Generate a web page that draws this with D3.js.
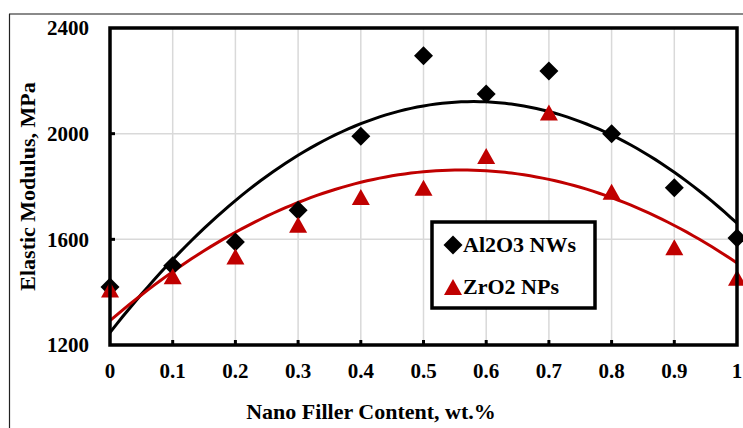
<!DOCTYPE html>
<html>
  <head>
    <meta charset="utf-8">
    <script src="https://d3js.org/d3.v7.min.js"></script>
    <title>Elastic Modulus</title>
    <style>
      html, body {
        margin: 0px;
        padding: 0px;
        overflow: hidden;
        background: #fff;
      }
      svg {
        display: block;
      }
      text {
        font-family: 'Liberation Serif', 'Times New Roman', serif;
        font-weight: bold;
        fill: #000;
      }
      .tick-label {
        font-size: 21px;
      }
      .axis-title {
        font-size: 22px;
      }
      .legend-text {
        font-size: 22px;
      }
    </style>
  </head>
  <body>
    <svg width="743" height="428"></svg>
    <script>
      const fillerContent = [0, 0.1, 0.2, 0.3, 0.4, 0.5, 0.6, 0.7, 0.8, 0.9, 1];
      const al2o3Values = [1420, 1500, 1590, 1710, 1990, 2295, 2150, 2237, 2000, 1795, 1605];
      const zro2Values = [1410, 1460, 1535, 1655, 1760, 1795, 1915, 2080, 1780, 1570, 1455];
      const xTicks = [0, 0.1, 0.2, 0.3, 0.4, 0.5, 0.6, 0.7, 0.8, 0.9, 1];
      const yTicks = [1200, 1600, 2000, 2400];
      const seriesNames = ['Al2O3 NWs', 'ZrO2 NPs'];

      const black = '#000000';
      const red = '#c00000';
      const margin = { left: 110, right: 6, top: 28, bottom: 83 };

      const svg = d3.select('svg');
      const width = +svg.attr('width');
      const height = +svg.attr('height');
      const innerWidth = width - margin.left - margin.right;
      const innerHeight = height - margin.top - margin.bottom;

      // chart area border (top grey, left dark)
      svg.append('line')
          .attr('x1', 9).attr('x2', width).attr('y1', 14).attr('y2', 14)
          .attr('stroke', '#8a8a8a').attr('stroke-width', 2);
      svg.append('line')
          .attr('x1', 9.5).attr('x2', 9.5).attr('y1', 14).attr('y2', height)
          .attr('stroke', '#222').attr('stroke-width', 1.2);

      const x = d3.scaleLinear().domain([0, 1]).range([0, innerWidth]);
      const y = d3.scaleLinear().domain([1200, 2400]).range([innerHeight, 0]);

      const g = svg.append('g')
          .attr('transform', `translate(${margin.left},${margin.top})`);

      // gridlines
      g.append('g').selectAll('line').data(xTicks.slice(1, -1))
        .enter().append('line')
          .attr('x1', d => x(d)).attr('x2', d => x(d))
          .attr('y1', 0).attr('y2', innerHeight)
          .attr('stroke', '#d9d9d9').attr('stroke-width', 1.5);
      g.append('g').selectAll('line').data(yTicks.slice(1, -1))
        .enter().append('line')
          .attr('x1', 0).attr('x2', innerWidth)
          .attr('y1', d => y(d)).attr('y2', d => y(d))
          .attr('stroke', '#d9d9d9').attr('stroke-width', 1.5);

      // inner tick marks
      g.append('g').selectAll('line').data(xTicks.slice(1, -1))
        .enter().append('line')
          .attr('x1', d => x(d)).attr('x2', d => x(d))
          .attr('y1', innerHeight).attr('y2', innerHeight - 5)
          .attr('stroke', black).attr('stroke-width', 3);
      g.append('g').selectAll('line').data(yTicks.slice(1, -1))
        .enter().append('line')
          .attr('x1', 0).attr('x2', 5)
          .attr('y1', d => y(d)).attr('y2', d => y(d))
          .attr('stroke', black).attr('stroke-width', 3);

      // tick labels
      g.append('g').selectAll('text').data(xTicks)
        .enter().append('text')
          .attr('class', 'tick-label')
          .attr('x', d => x(d))
          .attr('y', innerHeight + 33)
          .attr('text-anchor', 'middle')
          .text(d => d3.format('')(d));
      g.append('g').selectAll('text').data(yTicks)
        .enter().append('text')
          .attr('class', 'tick-label')
          .attr('x', -21)
          .attr('y', d => y(d))
          .attr('dy', '0.35em')
          .attr('text-anchor', 'end')
          .text(d => d);

      // quadratic least squares trendline, like the spreadsheet's polynomial fit
      const quadFit = (xs, ys) => {
        const n = xs.length;
        let s1 = 0, s2 = 0, s3 = 0, s4 = 0, t0 = 0, t1 = 0, t2 = 0;
        xs.forEach((xi, i) => {
          const yi = ys[i];
          s1 += xi; s2 += xi * xi; s3 += xi ** 3; s4 += xi ** 4;
          t0 += yi; t1 += xi * yi; t2 += xi * xi * yi;
        });
        const m = [[n, s1, s2, t0], [s1, s2, s3, t1], [s2, s3, s4, t2]];
        for (let c = 0; c < 3; c++) {
          for (let r = c + 1; r < 3; r++) {
            const f = m[r][c] / m[c][c];
            for (let k = c; k < 4; k++) m[r][k] -= f * m[c][k];
          }
        }
        const co = [0, 0, 0];
        for (let r = 2; r >= 0; r--) {
          let s = m[r][3];
          for (let k = r + 1; k < 3; k++) s -= m[r][k] * co[k];
          co[r] = s / m[r][r];
        }
        return v => co[0] + co[1] * v + co[2] * v * v;
      };

      const fitLine = d3.line()
        .x(d => x(d[0]))
        .y(d => y(d[1]));

      const samples = d3.range(0, 1.0001, 0.01);
      const series = [
        { name: seriesNames[0], values: al2o3Values, color: black, shape: 'diamond' },
        { name: seriesNames[1], values: zro2Values, color: red, shape: 'triangle' }
      ];

      const diamondPath = 'M0,-9.5L9.5,0L0,9.5L-9.5,0Z';
      const trianglePath = 'M0,-8L9,8L-9,8Z';
      const shapePath = s => s === 'diamond' ? diamondPath : trianglePath;

      series.forEach(s => {
        const f = quadFit(fillerContent, s.values);
        g.append('path')
            .datum(samples.map(v => [v, f(v)]))
            .attr('d', fitLine)
            .attr('fill', 'none')
            .attr('stroke', s.color)
            .attr('stroke-width', 3);
      });

      series.forEach(s => {
        g.append('g').selectAll('path').data(s.values)
          .enter().append('path')
            .attr('d', shapePath(s.shape))
            .attr('transform', (d, i) => `translate(${x(fillerContent[i])},${y(d)})`)
            .attr('fill', s.color);
      });

      // plot frame
      g.append('rect')
          .attr('width', innerWidth)
          .attr('height', innerHeight)
          .attr('fill', 'none')
          .attr('stroke', black)
          .attr('stroke-width', 3.5);

      // axis titles
      svg.append('text')
          .attr('class', 'axis-title')
          .attr('x', 371)
          .attr('y', 419)
          .attr('text-anchor', 'middle')
          .text('Nano Filler Content, wt.%');
      svg.append('text')
          .attr('class', 'axis-title')
          .attr('transform', `translate(35,${margin.top + innerHeight / 2}) rotate(-90)`)
          .attr('text-anchor', 'middle')
          .text('Elastic Modulus, MPa');

      // legend
      const legendG = svg.append('g')
          .attr('transform', 'translate(432,222)');
      legendG.append('rect')
          .attr('width', 163)
          .attr('height', 86)
          .attr('fill', '#fff')
          .attr('stroke', black)
          .attr('stroke-width', 3.5);
      series.forEach((s, i) => {
        const row = legendG.append('g')
            .attr('transform', `translate(21,${23 + i * 42})`);
        row.append('path')
            .attr('d', shapePath(s.shape))
            .attr('fill', s.color);
        row.append('text')
            .attr('class', 'legend-text')
            .attr('x', 10)
            .attr('y', 7)
            .text(s.name);
      });
    </script>
  </body>
</html>
